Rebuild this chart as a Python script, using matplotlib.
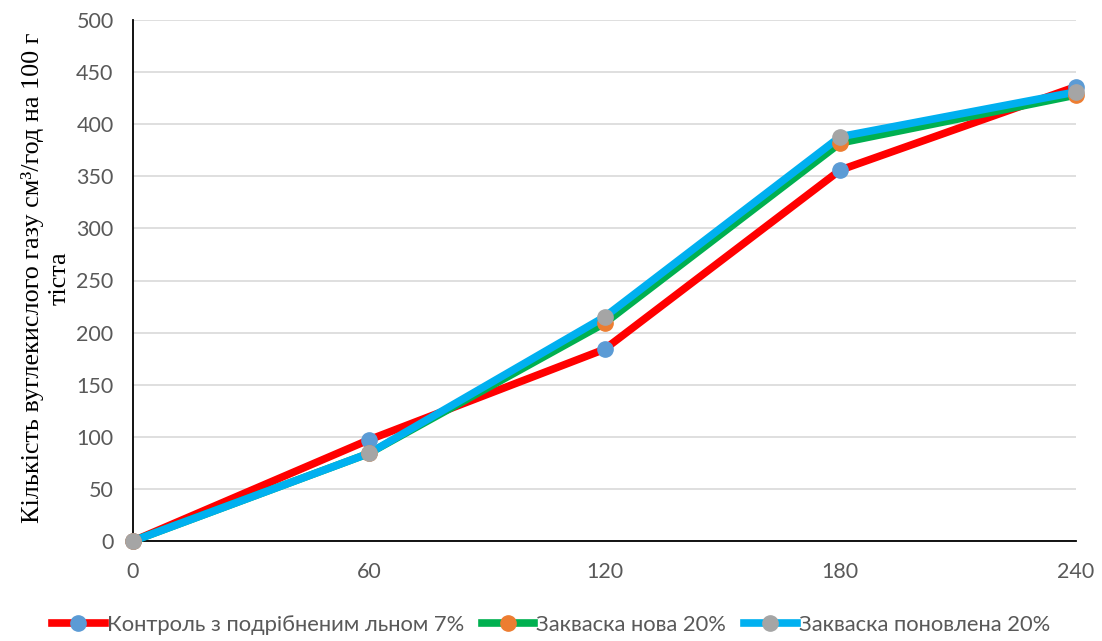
import matplotlib
matplotlib.use("Agg")
import matplotlib.pyplot as plt
from matplotlib.lines import Line2D

# Fermentation time, min
time_min = [0, 60, 120, 180, 240]

# CO2 released, cm3/h per 100 g dough
control = [0, 97, 184, 356, 436]
starter_new = [0, 84, 209, 382, 428]
starter_renewed = [0, 84, 215, 388, 431]

labels = ["Контроль з подрібненим льном 7%",
          "Закваска нова 20%",
          "Закваска поновлена 20%"]
line_colors = ["#FF0000", "#00B050", "#00B0F0"]
marker_colors = ["#5B9BD5", "#ED7D31", "#A5A5A5"]

y_ticks = [0, 50, 100, 150, 200, 250, 300, 350, 400, 450, 500]

W, H = 1102, 641
fig = plt.figure(figsize=(W / 100, H / 100), dpi=100)
ax = fig.add_axes([133 / W, (H - 541) / H, (1076 - 133) / W, (541 - 20) / H])

tick_font = "Lato"
series = [control, starter_new, starter_renewed]
handles = []
for vals, lab, lc, mc in zip(series, labels, line_colors, marker_colors):
    ax.plot(time_min, vals, color=lc, lw=5.5, solid_capstyle="round",
            solid_joinstyle="round", zorder=3, clip_on=False)
    ax.plot(time_min, vals, ls="none", marker="o", ms=11, mfc=mc, mec=mc,
            zorder=4, clip_on=False)
    handles.append(Line2D([0], [0], color=lc, lw=5.5, marker="o", ms=11,
                          mfc=mc, mec=mc, label=lab))

ax.set_xlim(0, 240)
ax.set_ylim(0, 500)
ax.set_xticks(time_min)
ax.set_yticks(y_ticks)
ax.grid(axis="y", color="#D9D9D9", lw=1.2, zorder=0)
ax.set_axisbelow(True)
for s in ["top", "right"]:
    ax.spines[s].set_visible(False)
for s in ["left", "bottom"]:
    ax.spines[s].set_color("black")
    ax.spines[s].set_linewidth(1.3)
ax.tick_params(length=0, labelsize=15.5, labelcolor="#595959")
ax.tick_params(axis="y", pad=14)
ax.tick_params(axis="x", pad=15)
for t in ax.get_xticklabels() + ax.get_yticklabels():
    t.set_fontfamily(tick_font)

ax.set_ylabel("Кількість вуглекислого газу см³/год на 100 г\nтіста",
              fontfamily="Liberation Serif", fontsize=18.8, color="black",
              linespacing=1.3)
ax.yaxis.set_label_coords(-0.066, 0.505)

fig.legend(handles=handles, loc="center", bbox_to_anchor=(0.5, (H - 625) / H),
           ncol=3, frameon=False, handlelength=2.4, handletextpad=0.1,
           columnspacing=0.8, prop={"family": tick_font, "size": 15.8},
           labelcolor="#595959")

fig.savefig("out.png", dpi=100)
